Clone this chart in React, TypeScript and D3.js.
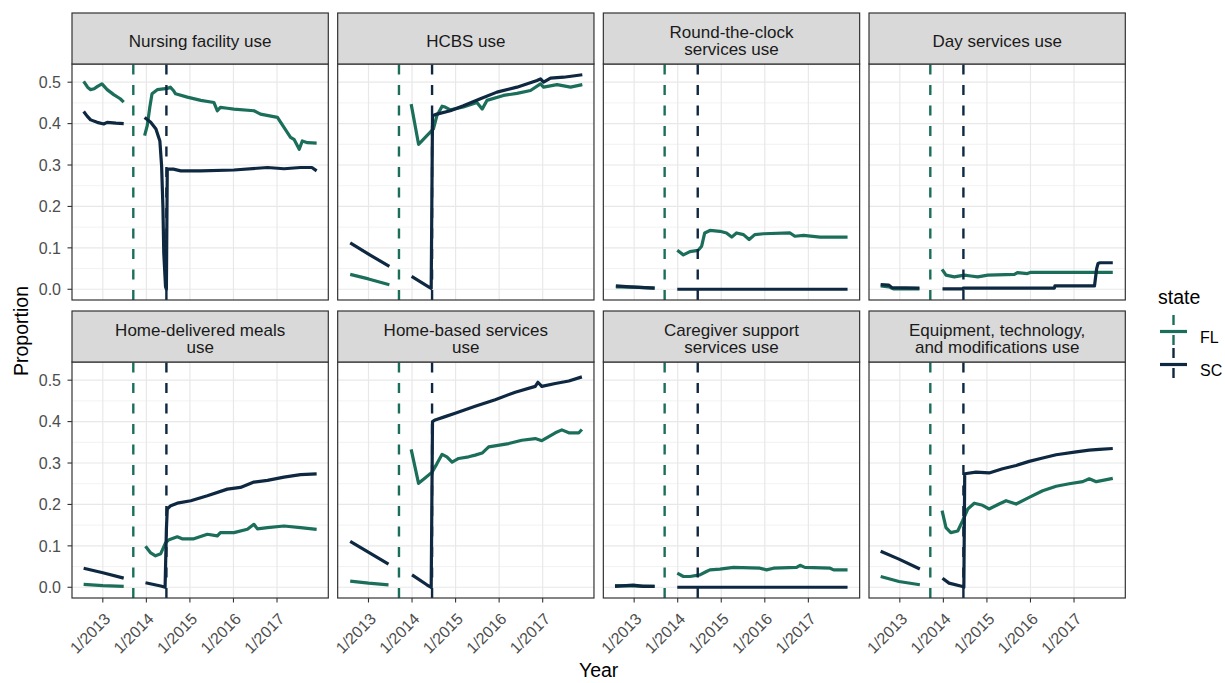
import React from "react";
import * as d3 from "d3";

// [year, proportion]; null marks the gap in the series
type Pt = [number, number] | null;

const panelTitles = [
  ["Nursing facility use"],
  ["HCBS use"],
  ["Round-the-clock", "services use"],
  ["Day services use"],
  ["Home-delivered meals", "use"],
  ["Home-based services", "use"],
  ["Caregiver support", "services use"],
  ["Equipment, technology,", "and modifications use"],
];

const nursingFL: Pt[] = [
  [2012.56, 0.502], [2012.65, 0.488], [2012.72, 0.482], [2012.8, 0.484], [2012.88, 0.49], [2012.98, 0.496],
  [2013.1, 0.482], [2013.25, 0.47], [2013.4, 0.46], [2013.48, 0.452],
  null,
  [2013.96, 0.371], [2014.02, 0.395], [2014.08, 0.44], [2014.13, 0.472], [2014.25, 0.482], [2014.48, 0.485],
  [2014.55, 0.488], [2014.62, 0.48], [2014.67, 0.472], [2014.94, 0.464], [2015.25, 0.456], [2015.55, 0.451],
  [2015.63, 0.431], [2015.7, 0.439], [2015.86, 0.437], [2016.01, 0.435], [2016.47, 0.431], [2016.62, 0.423],
  [2017.01, 0.415], [2017.16, 0.391], [2017.31, 0.367], [2017.39, 0.362], [2017.51, 0.338], [2017.58, 0.358],
  [2017.7, 0.354], [2017.91, 0.353],
];
const nursingSC: Pt[] = [
  [2012.56, 0.429], [2012.64, 0.418], [2012.72, 0.409], [2012.87, 0.403], [2013.02, 0.399], [2013.1, 0.403],
  [2013.3, 0.401], [2013.48, 0.4],
  null,
  [2013.96, 0.415], [2014.1, 0.403], [2014.22, 0.387], [2014.31, 0.358], [2014.35, 0.298], [2014.38, 0.2],
  [2014.4, 0.087], [2014.44, 0.006], [2014.46, 0.0], [2014.48, 0.29], [2014.62, 0.29], [2014.79, 0.286],
  [2015.25, 0.286], [2016.01, 0.288], [2016.78, 0.294], [2017.16, 0.291], [2017.54, 0.294], [2017.8, 0.294],
  [2017.91, 0.286],
];

const hcbsFL: Pt[] = [
  [2012.58, 0.036], [2013.0, 0.025], [2013.48, 0.011],
  null,
  [2013.98, 0.447], [2014.15, 0.35], [2014.49, 0.387], [2014.57, 0.419], [2014.69, 0.442], [2014.76, 0.44],
  [2014.88, 0.433], [2015.18, 0.44], [2015.49, 0.451], [2015.61, 0.435], [2015.72, 0.456], [2016.1, 0.468],
  [2016.41, 0.473], [2016.72, 0.48], [2016.95, 0.496], [2017.02, 0.488], [2017.33, 0.494], [2017.64, 0.488],
  [2017.91, 0.494],
];
const hcbsSC: Pt[] = [
  [2012.58, 0.112], [2013.03, 0.083], [2013.48, 0.055],
  null,
  [2013.99, 0.031], [2014.38, 0.006], [2014.44, 0.002], [2014.47, 0.419], [2014.57, 0.423], [2014.88, 0.431],
  [2015.18, 0.443], [2015.57, 0.46], [2015.95, 0.476], [2016.41, 0.488], [2016.87, 0.504], [2016.95, 0.508],
  [2017.02, 0.5], [2017.18, 0.51], [2017.48, 0.512], [2017.91, 0.518],
];

const roundFL: Pt[] = [
  [2012.58, 0.006], [2013.0, 0.005], [2013.47, 0.003],
  null,
  [2013.99, 0.094], [2014.13, 0.083], [2014.28, 0.091], [2014.47, 0.094], [2014.55, 0.104], [2014.62, 0.136],
  [2014.74, 0.142], [2014.97, 0.14], [2015.12, 0.136], [2015.24, 0.126], [2015.35, 0.136], [2015.51, 0.132],
  [2015.64, 0.12], [2015.77, 0.132], [2015.97, 0.134], [2016.58, 0.136], [2016.69, 0.128], [2016.89, 0.13],
  [2017.27, 0.126], [2017.9, 0.126],
];
const roundSC: Pt[] = [
  [2012.58, 0.008], [2012.9, 0.006], [2013.47, 0.003],
  null,
  [2013.99, 0.0], [2017.9, 0.0],
];

const dayFL: Pt[] = [
  [2012.56, 0.008], [2012.75, 0.006], [2012.85, 0.001], [2013.45, 0.001],
  null,
  [2013.97, 0.048], [2014.06, 0.034], [2014.25, 0.03], [2014.48, 0.034], [2014.63, 0.032], [2014.79, 0.03],
  [2015.02, 0.034], [2015.63, 0.036], [2015.7, 0.04], [2015.93, 0.038], [2016.01, 0.041], [2017.89, 0.041],
];
const daySC: Pt[] = [
  [2012.56, 0.011], [2012.75, 0.01], [2012.82, 0.004], [2013.45, 0.003],
  null,
  [2013.98, 0.001], [2014.44, 0.001], [2014.46, 0.003], [2016.55, 0.003], [2016.56, 0.008], [2017.47, 0.008],
  [2017.52, 0.05], [2017.55, 0.062], [2017.6, 0.064], [2017.89, 0.064],
];

const mealsFL: Pt[] = [
  [2012.56, 0.007], [2013.0, 0.004], [2013.48, 0.002],
  null,
  [2013.98, 0.099], [2014.1, 0.083], [2014.21, 0.076], [2014.33, 0.081], [2014.44, 0.107], [2014.52, 0.115],
  [2014.71, 0.122], [2014.82, 0.117], [2015.09, 0.117], [2015.4, 0.128], [2015.63, 0.124], [2015.7, 0.132],
  [2016.01, 0.132], [2016.32, 0.14], [2016.47, 0.152], [2016.55, 0.141], [2016.78, 0.144], [2017.16, 0.148],
  [2017.54, 0.144], [2017.91, 0.14],
];
const mealsSC: Pt[] = [
  [2012.56, 0.046], [2013.0, 0.035], [2013.48, 0.022],
  null,
  [2013.98, 0.011], [2014.33, 0.003], [2014.43, 0.0], [2014.46, 0.14], [2014.48, 0.189], [2014.56, 0.197],
  [2014.71, 0.203], [2015.02, 0.209], [2015.4, 0.221], [2015.86, 0.237], [2016.16, 0.241], [2016.47, 0.254],
  [2016.78, 0.258], [2017.16, 0.266], [2017.54, 0.272], [2017.91, 0.274],
];

const homeFL: Pt[] = [
  [2012.58, 0.015], [2013.0, 0.01], [2013.46, 0.006],
  null,
  [2013.98, 0.333], [2014.15, 0.251], [2014.3, 0.264], [2014.46, 0.278], [2014.57, 0.298], [2014.69, 0.321],
  [2014.8, 0.315], [2014.92, 0.302], [2015.07, 0.311], [2015.3, 0.315], [2015.45, 0.319], [2015.61, 0.324],
  [2015.76, 0.339], [2016.22, 0.347], [2016.52, 0.355], [2016.83, 0.359], [2016.98, 0.354], [2017.29, 0.373],
  [2017.44, 0.38], [2017.6, 0.373], [2017.83, 0.373], [2017.9, 0.381],
];
const homeSC: Pt[] = [
  [2012.58, 0.111], [2013.46, 0.056],
  null,
  [2014.0, 0.03], [2014.34, 0.006], [2014.44, 0.0], [2014.47, 0.4], [2014.53, 0.404], [2014.76, 0.412],
  [2014.99, 0.42], [2015.45, 0.437], [2015.91, 0.453], [2016.37, 0.471], [2016.83, 0.485], [2016.89, 0.495],
  [2016.98, 0.485], [2017.29, 0.492], [2017.6, 0.498], [2017.9, 0.508],
];

const careFL: Pt[] = [
  [2012.56, 0.004], [2013.47, 0.002],
  null,
  [2013.99, 0.034], [2014.13, 0.026], [2014.28, 0.026], [2014.51, 0.03], [2014.66, 0.038], [2014.74, 0.042],
  [2014.97, 0.044], [2015.28, 0.048], [2015.89, 0.046], [2016.04, 0.042], [2016.2, 0.046], [2016.73, 0.048],
  [2016.81, 0.053], [2016.92, 0.048], [2017.5, 0.046], [2017.58, 0.042], [2017.9, 0.042],
];
const careSC: Pt[] = [
  [2012.56, 0.002], [2012.98, 0.005], [2013.2, 0.002], [2013.47, 0.002],
  null,
  [2013.99, 0.0], [2017.9, 0.0],
];

const equipFL: Pt[] = [
  [2012.56, 0.026], [2012.98, 0.014], [2013.46, 0.006],
  null,
  [2013.97, 0.185], [2014.06, 0.144], [2014.17, 0.132], [2014.33, 0.136], [2014.44, 0.16], [2014.56, 0.189],
  [2014.71, 0.203], [2014.9, 0.198], [2015.05, 0.189], [2015.28, 0.201], [2015.44, 0.209], [2015.67, 0.201],
  [2015.97, 0.217], [2016.28, 0.233], [2016.59, 0.244], [2016.89, 0.25], [2017.2, 0.255], [2017.35, 0.262],
  [2017.51, 0.255], [2017.66, 0.258], [2017.89, 0.263],
];
const equipSC: Pt[] = [
  [2012.56, 0.087], [2012.98, 0.068], [2013.46, 0.044],
  null,
  [2013.98, 0.022], [2014.13, 0.01], [2014.44, 0.002], [2014.47, 0.0], [2014.49, 0.274], [2014.75, 0.278],
  [2015.05, 0.276], [2015.36, 0.286], [2015.67, 0.294], [2015.97, 0.304], [2016.28, 0.312], [2016.59, 0.32],
  [2017.05, 0.327], [2017.35, 0.331], [2017.58, 0.333], [2017.89, 0.335],
];

const seriesFL = [nursingFL, hcbsFL, roundFL, dayFL, mealsFL, homeFL, careFL, equipFL];
const seriesSC = [nursingSC, hcbsSC, roundSC, daySC, mealsSC, homeSC, careSC, equipSC];

const states = ["FL", "SC"];
const stateColors = ["#1b6e5a", "#0f2841"];
// policy change date per state (dashed lines)
const changeYears = [2013.7, 2014.46];

const xTicks = [2013, 2014, 2015, 2016, 2017];
const yTicks = [0, 0.1, 0.2, 0.3, 0.4, 0.5];
const yMinorTicks = [0.05, 0.15, 0.25, 0.35, 0.45];

// layout
const W = 1225;
const H = 683;
const col0 = 72;
const colStep = 265.67;
const panelW = 256.3;
const rowTops = [13, 311];
const stripH = 51;
const panelH = 236;
const font = "'Liberation Sans', Arial, Helvetica, sans-serif";

const expand = (ext: number[]) => {
  const pad = (ext[1] - ext[0]) * 0.05;
  return [ext[0] - pad, ext[1] + pad];
};

export default function App() {
  const allPts = [...seriesFL, ...seriesSC].flat().filter((d) => d !== null) as [number, number][];
  const xDomain = expand(d3.extent(allPts, (d) => d[0]) as number[]);
  const yDomain = expand(d3.extent(allPts, (d) => d[1]) as number[]);

  const xScale = d3.scaleLinear().domain(xDomain).range([0, panelW]);
  const yScale = d3.scaleLinear().domain(yDomain).range([panelH, 0]);

  const line = d3
    .line<Pt>()
    .defined((d) => d !== null)
    .x((d) => xScale(d![0]))
    .y((d) => yScale(d![1]));

  const panels = panelTitles.map((title, i) => {
    const col = i % 4;
    const row = Math.floor(i / 4);
    const left = col0 + col * colStep;
    const stripTop = rowTops[row];
    const top = stripTop + stripH;
    const series = [seriesFL[i], seriesSC[i]];
    const baselines = title.length === 1 ? [33.5] : [24.7, 42];

    return (
      <g key={i}>
        <g transform={`translate(${left},${top})`}>
          <rect width={panelW} height={panelH} fill="white" />
          {yMinorTicks.map((t) => (
            <line key={"m" + t} x1={0} x2={panelW} y1={yScale(t)} y2={yScale(t)} stroke="#f1f1f1" strokeWidth={0.9} />
          ))}
          {yTicks.map((t) => (
            <line key={"y" + t} x1={0} x2={panelW} y1={yScale(t)} y2={yScale(t)} stroke="#e8e8e8" strokeWidth={1.2} />
          ))}
          {xTicks.map((t) => (
            <line key={"x" + t} x1={xScale(t)} x2={xScale(t)} y1={0} y2={panelH} stroke="#e8e8e8" strokeWidth={1.2} />
          ))}
          {series.map((s, k) => (
            <path key={states[k]} d={line(s) || ""} fill="none" stroke={stateColors[k]} strokeWidth={3.2} strokeLinejoin="round" />
          ))}
          {changeYears.map((yr, k) => (
            <line
              key={"v" + k}
              x1={xScale(yr)}
              x2={xScale(yr)}
              y1={panelH}
              y2={0}
              stroke={stateColors[k]}
              strokeWidth={2.4}
              strokeDasharray="10,10.5"
            />
          ))}
          <rect width={panelW} height={panelH} fill="none" stroke="#333333" strokeWidth={1.2} />
          {col === 0 &&
            yTicks.map((t) => (
              <g key={"yt" + t}>
                <line x1={-4.5} x2={0} y1={yScale(t)} y2={yScale(t)} stroke="#333333" strokeWidth={1.1} />
                <text x={-11} y={yScale(t)} dy="0.36em" textAnchor="end" fontSize={16} fill="#4d4d4d" fontFamily={font}>
                  {d3.format(".1f")(t)}
                </text>
              </g>
            ))}
          {row === 1 &&
            xTicks.map((t) => (
              <g key={"xt" + t}>
                <line x1={xScale(t)} x2={xScale(t)} y1={panelH} y2={panelH + 4.5} stroke="#333333" strokeWidth={1.1} />
                <text
                  transform={`translate(${xScale(t) + 8.5},${panelH + 22}) rotate(-45)`}
                  textAnchor="end"
                  fontSize={16}
                  fill="#4d4d4d"
                  fontFamily={font}
                >
                  {`1/${t}`}
                </text>
              </g>
            ))}
        </g>
        <rect x={left} y={stripTop} width={panelW} height={stripH} fill="#d9d9d9" stroke="#333333" strokeWidth={1.2} />
        {title.map((t, k) => (
          <text
            key={k}
            x={left + panelW / 2}
            y={stripTop + baselines[k]}
            textAnchor="middle"
            fontSize={17}
            fill="#1a1a1a"
            fontFamily={font}
          >
            {t}
          </text>
        ))}
      </g>
    );
  });

  const panelsRight = col0 + 3 * colStep + panelW;
  const legendKeys = states.map((s, k) => {
    const keyTop = 315 + k * 33;
    const cy = keyTop + 16.5;
    return (
      <g key={s}>
        <line x1={1173.5} x2={1173.5} y1={keyTop} y2={keyTop + 33} stroke={stateColors[k]} strokeWidth={2.4} strokeDasharray="10,10" />
        <line x1={1160} x2={1187} y1={cy} y2={cy} stroke={stateColors[k]} strokeWidth={3.2} />
        <text x={1200} y={cy + 5.5} dy="0.36em" fontSize={16} fill="#000" fontFamily={font}>
          {s}
        </text>
      </g>
    );
  });

  return (
    <svg width={W} height={H} style={{ position: "absolute", left: 0, top: 0, background: "white" }}>
      <rect width={W} height={H} fill="white" />
      {panels}
      <text
        transform={`translate(28,${(rowTops[0] + stripH + rowTops[1] + stripH + panelH) / 2}) rotate(-90)`}
        textAnchor="middle"
        fontSize={19.5}
        fill="#000"
        fontFamily={font}
      >
        Proportion
      </text>
      <text x={(col0 + panelsRight) / 2} y={677} textAnchor="middle" fontSize={19.5} fill="#000" fontFamily={font}>
        Year
      </text>
      <text x={1158} y={304} fontSize={19.5} fill="#000" fontFamily={font}>
        state
      </text>
      {legendKeys}
    </svg>
  );
}
